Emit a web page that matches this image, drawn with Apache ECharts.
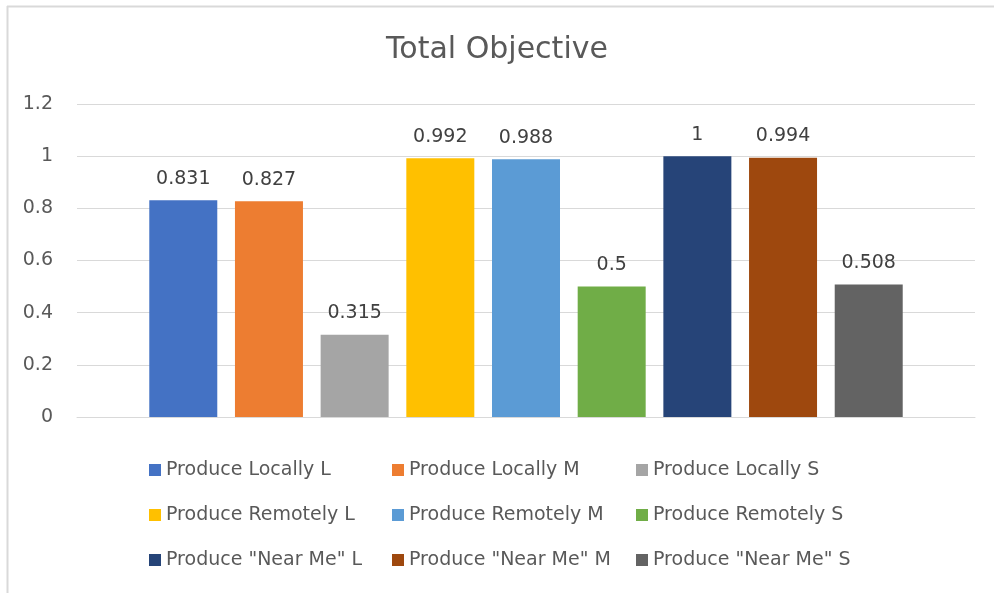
<!DOCTYPE html>
<html><head><meta charset="utf-8">
<script src="https://cdn.jsdelivr.net/npm/echarts@6/dist/echarts.min.js"></script>
<style>html,body{margin:0;padding:0;background:#fff}#c{width:994px;height:593px}</style>
</head><body><div id="c"></div>
<script>
const titleText = 'Total Objective';
const categories = ['Total Objective'];
const seriesNames = ['Produce Locally L','Produce Locally M','Produce Locally S','Produce Remotely L','Produce Remotely M','Produce Remotely S','Produce "Near Me" L','Produce "Near Me" M','Produce "Near Me" S'];
const seriesValues = [0.831,0.827,0.315,0.992,0.988,0.5,1,0.994,0.508];
const seriesColors = ['#4472C4','#ED7D31','#A5A5A5','#FFC000','#5B9BD5','#70AD47','#264478','#9E480E','#636363'];
const yTicks = [0,0.2,0.4,0.6,0.8,1,1.2];

const FONT = '"DejaVu Sans", "Open Sans", sans-serif';
const chart = echarts.init(document.getElementById('c'), null, {renderer:'canvas'});
const series = seriesNames.map((n,i)=>({
  name:n, type:'bar', data:[seriesValues[i]], barWidth:68, barGap:'26%',
  itemStyle:{color:seriesColors[i]},
  label:{show:true, position:'top', distance:12, color:'#404040', fontSize:19, fontFamily:FONT,
    formatter:p=>String(p.value)}
}));
function legendCol(left, names){
  return {orient:'vertical', left:left, top:455, itemWidth:12, itemHeight:12, itemGap:25,
    icon:'rect', data:names, selectedMode:false,
    textStyle:{color:'#595959', fontSize:19, fontFamily:FONT, lineHeight:20}};
}
chart.setOption({
  backgroundColor:'#fff',
  animation:false,
  title:{text:titleText, left:'center', top:30, textStyle:{color:'#595959', fontSize:30, fontWeight:'normal', fontFamily:FONT}},
  grid:{left:77, right:19, top:104, bottom:176, containLabel:false},
  legend:[
    legendCol(144,[seriesNames[0],seriesNames[3],seriesNames[6]]),
    legendCol(387,[seriesNames[1],seriesNames[4],seriesNames[7]]),
    legendCol(631,[seriesNames[2],seriesNames[5],seriesNames[8]])
  ],
  xAxis:{type:'category', data:categories, axisLabel:{show:false}, axisTick:{show:false},
    axisLine:{show:true, lineStyle:{color:'#D9D9D9', width:1}}},
  yAxis:{type:'value', min:yTicks[0], max:yTicks[yTicks.length-1], interval:0.2,
    axisLine:{show:false}, axisTick:{show:false},
    splitLine:{lineStyle:{color:'#D9D9D9', width:1}},
    axisLabel:{color:'#595959', fontSize:19, fontFamily:FONT, margin:24,
      formatter:v=>String(Math.round(v*10)/10)}},
  graphic:[
    {type:'line', shape:{x1:7.5,y1:6,x2:7.5,y2:593}, style:{stroke:'#D9D9D9', lineWidth:2}},
    {type:'line', shape:{x1:7,y1:6.5,x2:994,y2:6.5}, style:{stroke:'#D9D9D9', lineWidth:2}}
  ],
  series:series
});
</script></body></html>
